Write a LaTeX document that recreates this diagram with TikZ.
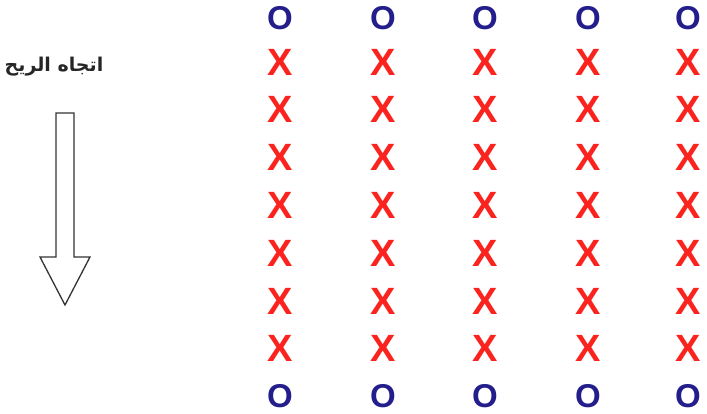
\documentclass[tikz,border=0pt]{standalone}
\usepackage{fontspec}
\setmainfont{Liberation Sans}
\newfontfamily\arabicfont[Script=Arabic]{DejaVu Sans}
\TeXXeTstate=1
\usepackage{tikz}
\usetikzlibrary{positioning}
\definecolor{markblue}{RGB}{35,30,140}
\definecolor{markred}{RGB}{250,35,30}

\begin{document}
\begin{tikzpicture}[x=1pt, y=-1pt,
      omark/.style={text=markblue, font=\fontsize{33}{33}\selectfont\bfseries, inner sep=0pt},
      xmark/.style={text=markred, font=\fontsize{38}{38}\selectfont\bfseries, inner sep=0pt},
      windlbl/.style={font=\fontsize{19}{21}\arabicfont\bfseries, text=black!85},
      windarrow/.style={draw=black!80, line width=1.3pt, fill=white, line join=miter}
    ]
    \useasboundingbox (0,0) rectangle (707,414);
    % ---------------- wind direction ----------------
    \node[windlbl] (wind) at (54,67) {\beginR اتجاه الريح\endR};
    \draw[windarrow] (56,113) -- (74,113) -- (74,257) -- (90,257) -- (65,305)
      -- (40,257) -- (56,257) -- cycle;
    % ---------------- grid of marks ----------------
    \foreach \c/\xx in {1/280, 2/383, 3/485, 4/588, 5/688} {
      \node[omark] (otop\c) at (\xx,18) {O};
      \foreach \r in {1,...,7}
        \node[xmark] (x\c\r) at (\xx,{62+47.8*(\r-1)}) {X};
      \node[omark] (obot\c) at (\xx,396) {O};
    }
  \end{tikzpicture}
\end{document}
